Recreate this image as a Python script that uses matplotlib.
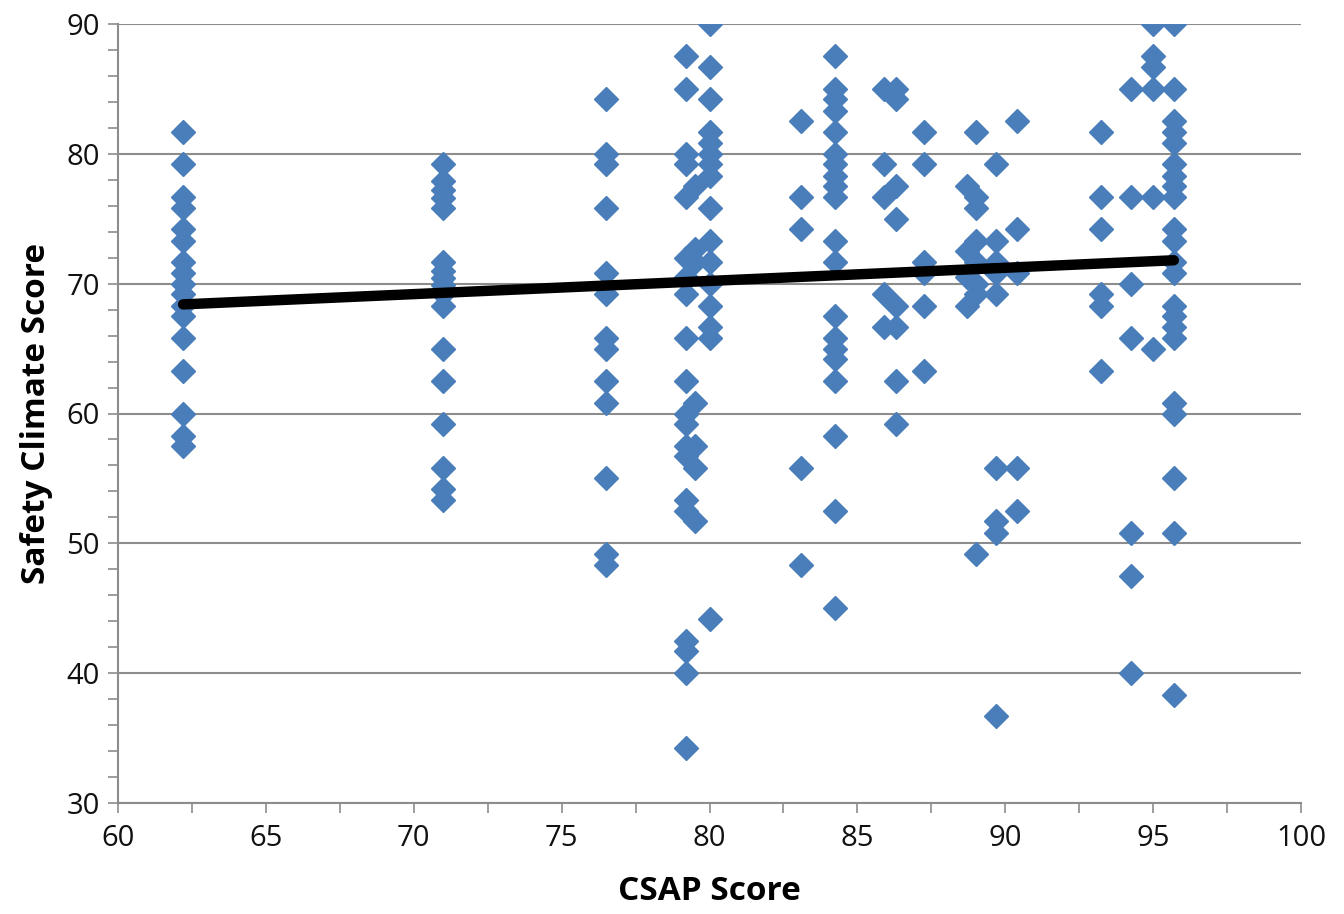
import matplotlib
matplotlib.use("Agg")
import matplotlib.pyplot as plt
import numpy as np
from matplotlib.ticker import MultipleLocator

CSAP_SCORES = [62.2, 71.0, 76.5, 79.2, 79.5, 80.0, 83.1, 84.25, 85.9, 86.3,
               87.25, 88.7, 89.0, 89.7, 90.4, 93.25, 94.25, 95.0, 95.7]
SAFETY_SCORES = [
    [81.7, 79.2, 76.7, 75.8, 74.2, 73.3, 71.7, 70.8, 70.0, 69.2, 68.3, 67.5,
     65.8, 63.3, 60.0, 58.3, 57.5],
    [79.2, 77.9, 77.2, 76.6, 75.8, 71.7, 71.0, 70.4, 69.9, 69.2, 68.3, 65.0,
     62.5, 59.2, 55.8, 54.2, 53.3],
    [84.2, 80.0, 79.2, 75.8, 70.8, 69.2, 65.8, 65.0, 62.5, 60.8, 55.0, 49.2, 48.3],
    [87.5, 85.0, 80.0, 79.2, 76.7, 72.0, 70.5, 69.2, 65.8, 62.5, 60.0, 59.2,
     57.5, 56.7, 53.3, 52.5, 42.5, 41.7, 40.0, 34.2],
    [77.5, 72.7, 71.7, 60.8, 57.5, 55.8, 51.7],
    [90.0, 86.7, 84.2, 81.7, 80.8, 80.0, 79.2, 78.3, 75.8, 73.3, 71.7, 70.0,
     68.3, 66.7, 65.8, 44.2],
    [82.5, 76.7, 74.2, 55.8, 48.3],
    [87.5, 85.0, 84.2, 83.3, 81.7, 80.0, 79.2, 78.3, 77.5, 76.7, 73.3, 71.7,
     67.5, 65.8, 65.0, 64.2, 62.5, 58.3, 52.5, 45.0],
    [85.0, 79.2, 76.7, 69.2, 66.7],
    [85.0, 84.2, 77.5, 75.0, 68.3, 66.7, 62.5, 59.2],
    [81.7, 79.2, 71.7, 70.8, 68.3, 63.3],
    [77.5, 72.5, 70.5, 68.3],
    [81.7, 76.7, 75.8, 73.3, 71.7, 70.0, 69.2, 49.2],
    [79.2, 73.3, 71.7, 70.8, 69.2, 55.8, 51.7, 50.8, 36.7],
    [82.5, 74.2, 70.8, 55.8, 52.5],
    [81.7, 76.7, 74.2, 69.2, 68.3, 63.3],
    [85.0, 76.7, 70.0, 65.8, 50.8, 47.5, 40.0],
    [90.0, 87.5, 86.7, 85.0, 76.7, 65.0],
    [90.0, 85.0, 82.5, 81.7, 80.8, 79.2, 78.3, 77.5, 76.7, 74.2, 73.3, 71.7,
     70.8, 68.3, 67.5, 66.7, 65.8, 60.8, 60.0, 55.0, 50.8, 38.3],
]

# linear trendline as shown in the original (overlapping points hide part of the data)
TREND_SLOPE = 0.1015
TREND_INTERCEPT = 62.09

x = np.concatenate([[cx] * len(ys) for cx, ys in zip(CSAP_SCORES, SAFETY_SCORES)])
y = np.concatenate(SAFETY_SCORES)

plt.rcParams["font.family"] = ["Open Sans", "DejaVu Sans"]

fig = plt.figure(figsize=(13.44, 9.14), dpi=100)
ax = fig.add_axes([118 / 1344, 1 - 803 / 914, (1301 - 118) / 1344, (803 - 24) / 914])

ax.plot(x, y, ls="none", marker="D", ms=12.5, color="#4a7ebb", mec="#4a7ebb", zorder=3)

line_x = np.array([x.min(), x.max()])
ax.plot(line_x, TREND_SLOPE * line_x + TREND_INTERCEPT, color="black", lw=7.5,
        solid_capstyle="round", zorder=4)

ax.set_xlim(60, 100)
ax.set_ylim(30, 90)
ax.xaxis.set_major_locator(MultipleLocator(5))
ax.xaxis.set_minor_locator(MultipleLocator(2.5))
ax.yaxis.set_major_locator(MultipleLocator(10))
ax.yaxis.set_minor_locator(MultipleLocator(2))

ax.grid(axis="y", which="major", color="#8c8c8c", lw=1.5, zorder=0)
for side in ("top", "right"):
    ax.spines[side].set_visible(False)
for side in ("left", "bottom"):
    ax.spines[side].set_color("#8c8c8c")
    ax.spines[side].set_linewidth(1.5)

ax.tick_params(which="both", direction="out", color="#8c8c8c", width=1.2,
               length=7, labelsize=21, labelcolor="#111111")
ax.tick_params(axis="x", pad=8)
ax.tick_params(axis="y", pad=6)

ax.set_xlabel("CSAP Score", fontsize=24, fontweight="bold", labelpad=16)
ax.set_ylabel("Safety Climate Score", fontsize=24, fontweight="bold", labelpad=10)

fig.savefig("out.png", dpi=100)
